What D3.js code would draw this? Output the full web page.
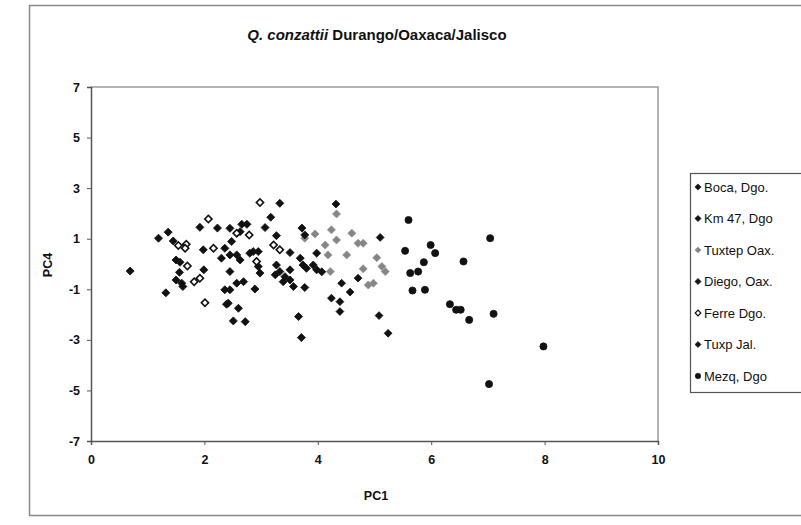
<!DOCTYPE html>
<html>
<head>
<meta charset="utf-8">
<script src="https://cdn.jsdelivr.net/npm/d3@7"></script>
<style>
  body { margin: 0; background: #fff; }
  text { font-family: "Liberation Sans", Arial, sans-serif; fill: #111; }
</style>
</head>
<body>
<svg id="chart"></svg>
<script>
var seriesNames = ["Boca, Dgo.", "Km 47, Dgo", "Tuxtep Oax.", "Diego, Oax.", "Ferre Dgo.", "Tuxp Jal.", "Mezq, Dgo"];
var xTicks = [0, 2, 4, 6, 8, 10];
var yTicks = [-7, -5, -3, -1, 1, 3, 5, 7];

// points as [PC1, PC4]
var bocaDgo = [[0.69, -0.28], [1.19, 1.02], [1.36, 1.26], [1.45, 0.91], [1.50, 0.16], [1.57, 0.07],
    [1.56, -0.33], [1.50, -0.63], [1.60, -0.76], [1.62, -0.89], [1.32, -1.14], [1.99, -0.23],
    [1.92, 1.45], [2.23, 1.42], [1.98, 0.56], [2.36, 0.62], [2.30, 0.23], [2.36, -1.02], [2.39, -1.59]];
var km47Dgo = [[2.66, 1.57], [2.75, 1.57], [2.63, 1.28], [2.45, 1.41], [2.48, 0.89], [2.86, 0.49],
    [2.95, 0.49], [2.95, -0.10], [2.98, -0.36], [2.80, 0.43], [2.57, 0.36], [2.45, 0.36], [2.63, 0.16],
    [2.45, -0.30], [2.57, -0.76], [2.69, -0.70], [2.45, -1.02], [2.89, -0.99], [2.42, -1.55],
    [2.60, -1.75], [2.51, -2.25], [2.72, -2.28]];
var tuxtepOax = [[4.33, 1.98], [4.24, 1.35], [3.95, 1.19], [4.60, 1.22], [4.71, 0.82], [4.80, 0.82],
    [4.13, 0.75], [4.18, 0.36], [4.51, 0.36], [5.04, 0.25], [4.22, -0.30], [4.80, -0.19], [5.13, -0.10],
    [5.19, -0.30], [4.98, -0.76], [4.89, -0.83], [3.77, 1.02], [4.33, 0.95]];
var diegoOax = [[3.33, 2.40], [3.17, 1.85], [3.07, 1.44], [3.27, 1.12], [3.51, 0.45], [3.72, 1.42],
    [3.77, 1.15], [3.98, 0.43], [3.27, -0.04], [3.33, -0.30], [3.25, -0.43], [3.42, -0.50], [3.39, -0.70],
    [3.51, -0.23], [3.57, -0.89], [3.77, -0.93], [3.69, 0.23], [3.74, -0.04], [3.80, -0.17], [3.92, -0.04],
    [3.98, -0.23], [4.07, -0.31], [3.51, -0.63], [3.66, -2.08], [3.71, -2.91]];
var ferreDgo = [[1.54, 0.73], [1.68, 0.78], [1.66, 0.62], [1.70, -0.08], [1.82, -0.70], [1.92, -0.56],
    [2.01, -1.53], [2.07, 1.78], [2.16, 0.62], [2.98, 2.43], [2.57, 1.22], [2.79, 1.15], [3.22, 0.75],
    [3.33, 0.56], [2.92, 0.10]];
var tuxpJal = [[4.32, 2.37], [4.42, -0.76], [4.24, -1.35], [4.39, -1.49], [4.39, -1.88], [4.71, -0.56],
    [4.57, -1.11], [5.08, -2.04], [5.24, -2.74], [5.10, 1.05]];
var mezqDgo = [[5.60, 1.74], [5.54, 0.52], [5.99, 0.75], [6.07, 0.43], [5.87, 0.07], [5.63, -0.36],
    [5.77, -0.30], [5.67, -1.05], [5.89, -1.02], [6.33, -1.59], [6.44, -1.81], [6.52, -1.81],
    [6.67, -2.21], [7.04, 1.02], [6.57, 0.10], [7.10, -1.97], [7.98, -3.26], [7.02, -4.75]];

var allSeries = [bocaDgo, km47Dgo, tuxtepOax, diegoOax, ferreDgo, tuxpJal, mezqDgo];

var width = 801;
var height = 525;

// marker style for each series, same order as seriesNames
var markerStyles = [
    { type: d3.symbolSquare, size: 32, fill: "#111", stroke: "#111", rot: 45 },
    { type: d3.symbolSquare, size: 32, fill: "#111", stroke: "#111", rot: 45 },
    { type: d3.symbolSquare, size: 32, fill: "#858585", stroke: "#969696", rot: 45 },
    { type: d3.symbolSquare, size: 32, fill: "#111", stroke: "#111", rot: 45 },
    { type: d3.symbolSquare, size: 26, fill: "#fff", stroke: "#111", rot: 45 },
    { type: d3.symbolSquare, size: 30, fill: "#111", stroke: "#111", rot: 45 },
    { type: d3.symbolCircle, size: 40, fill: "#111", stroke: "#111", rot: 0 }
];

var svg = d3.select("#chart")
    .attr("width", width)
    .attr("height", height);

// chart frame
svg.append("rect")
    .attr("x", 29.5).attr("y", 5.5)
    .attr("width", 790).attr("height", 510)
    .attr("fill", "#fff")
    .attr("stroke", "#8a8a8a")
    .attr("stroke-width", 1.5);

var x = d3.scaleLinear().domain([0, 10]).range([91, 658]);
var y = d3.scaleLinear().domain([-7, 7]).range([441, 87]);

// plot area border (top and right)
svg.append("path")
    .attr("d", "M" + x(0) + "," + y(7) + "H" + x(10) + "V" + y(-7))
    .attr("fill", "none")
    .attr("stroke", "#9a9a9a")
    .attr("stroke-width", 1.5);

var xAxis = svg.append("g")
    .attr("transform", "translate(0," + y(-7) + ")")
    .call(d3.axisBottom(x).tickValues(xTicks).tickSize(4).tickFormat(function (d) { return String(d); }));

var yAxis = svg.append("g")
    .attr("transform", "translate(" + x(0) + ",0)")
    .call(d3.axisLeft(y).tickValues(yTicks).tickSize(4).tickFormat(function (d) { return String(d); }));

[xAxis, yAxis].forEach(function (g) {
    g.select(".domain").attr("stroke", "#555").attr("stroke-width", 1.5);
    g.selectAll(".tick line").attr("stroke", "#555");
    g.selectAll(".tick text")
        .attr("font-size", 12.5)
        .attr("font-weight", "bold")
        .attr("font-family", "'Liberation Sans', Arial, sans-serif")
        .attr("fill", "#111");
});
xAxis.selectAll(".tick text").attr("dy", "1.25em");
yAxis.selectAll(".tick text").attr("x", -11);

// title
var title = svg.append("text")
    .attr("x", 377).attr("y", 40)
    .attr("text-anchor", "middle")
    .attr("font-size", 15)
    .attr("font-weight", "bold");
title.append("tspan").attr("font-style", "italic").text("Q. conzattii");
title.append("tspan").text(" Durango/Oaxaca/Jalisco");

svg.append("text")
    .attr("x", 376).attr("y", 500)
    .attr("text-anchor", "middle")
    .attr("font-size", 12.5)
    .attr("font-weight", "bold")
    .text("PC1");

svg.append("text")
    .attr("transform", "translate(52,265) rotate(-90)")
    .attr("text-anchor", "middle")
    .attr("font-size", 12.5)
    .attr("font-weight", "bold")
    .text("PC4");

// points
allSeries.forEach(function (pts, i) {
    var st = markerStyles[i];
    var sym = d3.symbol().type(st.type).size(st.size);
    svg.append("g")
        .selectAll("path")
        .data(pts)
        .enter()
        .append("path")
        .attr("d", sym)
        .attr("transform", function (d) {
            return "translate(" + x(d[0]) + "," + y(d[1]) + ") rotate(" + st.rot + ")";
        })
        .attr("fill", st.fill)
        .attr("stroke", st.stroke)
        .attr("stroke-width", i == 4 ? 1.6 : 0.8);
});

// legend
var legend = svg.append("g").attr("transform", "translate(690,173)");
legend.append("rect")
    .attr("x", 0.5).attr("y", 0.5)
    .attr("width", 130).attr("height", 219)
    .attr("fill", "#fff")
    .attr("stroke", "#555")
    .attr("stroke-width", 1.2);

var items = legend.selectAll(".item")
    .data(seriesNames)
    .enter()
    .append("g")
    .attr("class", "item")
    .attr("transform", function (d, i) { return "translate(0," + (14 + i * 31.5) + ")"; });

items.append("path")
    .attr("d", function (d, i) {
        return d3.symbol().type(markerStyles[i].type).size(markerStyles[i].size * 0.6)();
    })
    .attr("transform", function (d, i) { return "translate(8,0) rotate(" + markerStyles[i].rot + ")"; })
    .attr("fill", function (d, i) { return markerStyles[i].fill; })
    .attr("stroke", function (d, i) { return markerStyles[i].stroke; })
    .attr("stroke-width", function (d, i) { return i == 4 ? 1.2 : 0.6; });

items.append("text")
    .attr("x", 14)
    .attr("dy", "0.35em")
    .attr("font-size", 13)
    .text(function (d) { return d; });
</script>
</body>
</html>
